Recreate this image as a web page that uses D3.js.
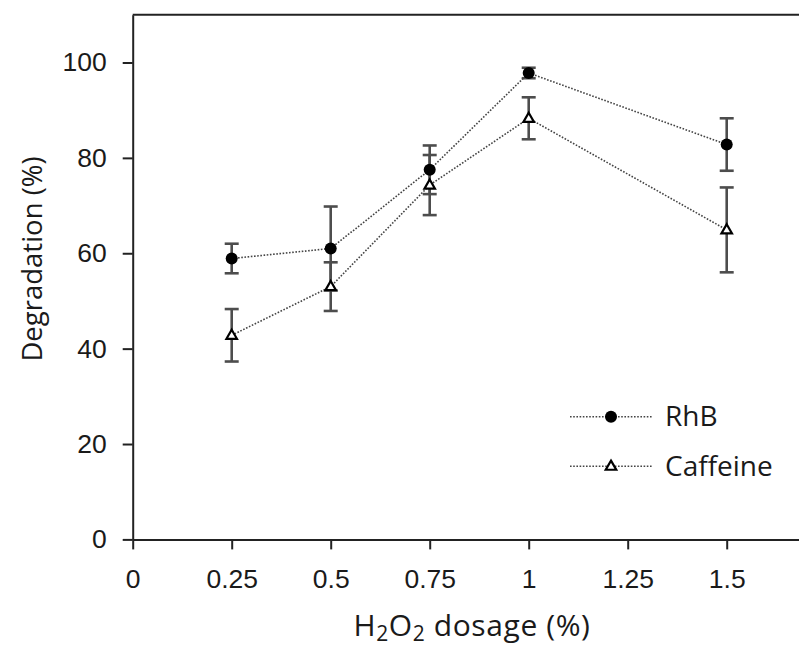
<!DOCTYPE html>
<html>
<head>
<meta charset="utf-8">
<script src="https://cdn.jsdelivr.net/npm/d3@7"></script>
<style>
  body { margin: 0; background: #fff; }
  svg { display: block; font-family: "Open Sans", "Noto Sans", sans-serif; }
  .axis path, .axis line { stroke: #222; stroke-width: 2; }
  .axis text { font-size: 26.5px; fill: #1a1a1a; }
</style>
</head>
<body>
<script>
// chart values
var dosage = [0.25, 0.5, 0.75, 1, 1.5];
var rhb = [58.9, 61.0, 77.5, 97.8, 82.8];
var rhbErr = [3.1, 8.8, 5.1, 1.1, 5.5];
var caffeine = [42.8, 53.0, 74.3, 88.3, 64.9];
var caffeineErr = [5.5, 5.1, 6.3, 4.4, 8.9];
var xTicks = [0, 0.25, 0.5, 0.75, 1, 1.25, 1.5];
var yTicks = [0, 20, 40, 60, 80, 100];
var seriesNames = ["RhB", "Caffeine"];

(function(){

var width = 799,
    height = 650,
    plotLeft = 132.7,
    plotTop = 14.8,
    plotBottom = 539.4,
    plotRight = 825.7;

var svg = d3.select("body").append("svg")
    .attr("width", width)
    .attr("height", height);

var x = d3.scaleLinear().domain([0, 1.75]).range([plotLeft, plotRight]);
var y = d3.scaleLinear().domain([0, 110]).range([plotBottom, plotTop]);

// frame top line
svg.append("line")
    .attr("x1", plotLeft).attr("x2", plotRight)
    .attr("y1", y(110)).attr("y2", y(110))
    .attr("stroke", "#222").attr("stroke-width", 2);

// axes
svg.append("g")
    .attr("class", "axis")
    .attr("transform", "translate(0," + plotBottom + ")")
    .call(d3.axisBottom(x).tickValues(xTicks).tickSize(10).tickSizeOuter(0).tickPadding(20)
        .tickFormat(function(d){ return String(d); }));

svg.append("g")
    .attr("class", "axis")
    .attr("transform", "translate(" + plotLeft + ",0)")
    .call(d3.axisLeft(y).tickValues(yTicks).tickSize(10).tickSizeOuter(0).tickPadding(16));

// axis titles
var xTitle = svg.append("text")
    .attr("x", 472).attr("y", 636)
    .attr("text-anchor", "middle")
    .attr("font-size", 30).attr("letter-spacing", 0.6).attr("fill", "#1a1a1a");
xTitle.append("tspan").text("H");
xTitle.append("tspan").attr("font-size", 21).attr("dy", 5).text("2");
xTitle.append("tspan").attr("dy", -5).text("O");
xTitle.append("tspan").attr("font-size", 21).attr("dy", 5).text("2");
xTitle.append("tspan").attr("dy", -5).text(" dosage (%)");

svg.append("text")
    .attr("transform", "translate(42,259) rotate(-90)")
    .attr("text-anchor", "middle")
    .attr("font-size", 27.5).attr("fill", "#1a1a1a")
    .text("Degradation (%)");

var series = [
    {name: seriesNames[0], vals: rhb, err: rhbErr, shape: "circle"},
    {name: seriesNames[1], vals: caffeine, err: caffeineErr, shape: "triangle"}
];

// error bars
series.forEach(function(s){
    var g = svg.append("g").attr("stroke", "#4d4d4d").attr("stroke-width", 2.6);
    dosage.forEach(function(d, i){
        var hi = y(s.vals[i] + s.err[i]), lo = y(s.vals[i] - s.err[i]), cx = x(d);
        g.append("line").attr("x1", cx).attr("x2", cx).attr("y1", hi).attr("y2", lo);
        g.append("line").attr("x1", cx - 7).attr("x2", cx + 7).attr("y1", hi).attr("y2", hi);
        g.append("line").attr("x1", cx - 7).attr("x2", cx + 7).attr("y1", lo).attr("y2", lo);
    });
});

// dotted connecting lines
var line = d3.line()
    .x(function(d){ return x(d[0]); })
    .y(function(d){ return y(d[1]); });

series.forEach(function(s){
    svg.append("path")
        .datum(dosage.map(function(d, i){ return [d, s.vals[i]]; }))
        .attr("d", line)
        .attr("fill", "none")
        .attr("stroke", "#444")
        .attr("stroke-width", 1.6)
        .attr("stroke-dasharray", "1.6,1.6");
});

function drawMarker(g, shape, cx, cy){
    if (shape == "circle"){
        g.append("circle").attr("cx", cx).attr("cy", cy).attr("r", 6).attr("fill", "#000");
    } else {
        g.append("path")
            .attr("d", d3.symbol().type(d3.symbolTriangle).size(48)())
            .attr("transform", "translate(" + cx + "," + (cy + 0.5) + ")")
            .attr("fill", "#fff").attr("stroke", "#000").attr("stroke-width", 2.2);
    }
}

// markers
series.forEach(function(s){
    var g = svg.append("g");
    dosage.forEach(function(d, i){
        drawMarker(g, s.shape, x(d), y(s.vals[i]));
    });
});

// legend
var legend = svg.append("g");
series.forEach(function(s, i){
    var ly = 416.7 + i * 49.5;
    legend.append("line")
        .attr("x1", 570).attr("x2", 653).attr("y1", ly).attr("y2", ly)
        .attr("stroke", "#444").attr("stroke-width", 1.6).attr("stroke-dasharray", "1.6,1.6");
    drawMarker(legend, s.shape, 611, ly);
    legend.append("text")
        .attr("x", 665).attr("y", ly + 9.5)
        .attr("font-size", 28).attr("fill", "#1a1a1a")
        .text(s.name);
});

})();
</script>
</body>
</html>
